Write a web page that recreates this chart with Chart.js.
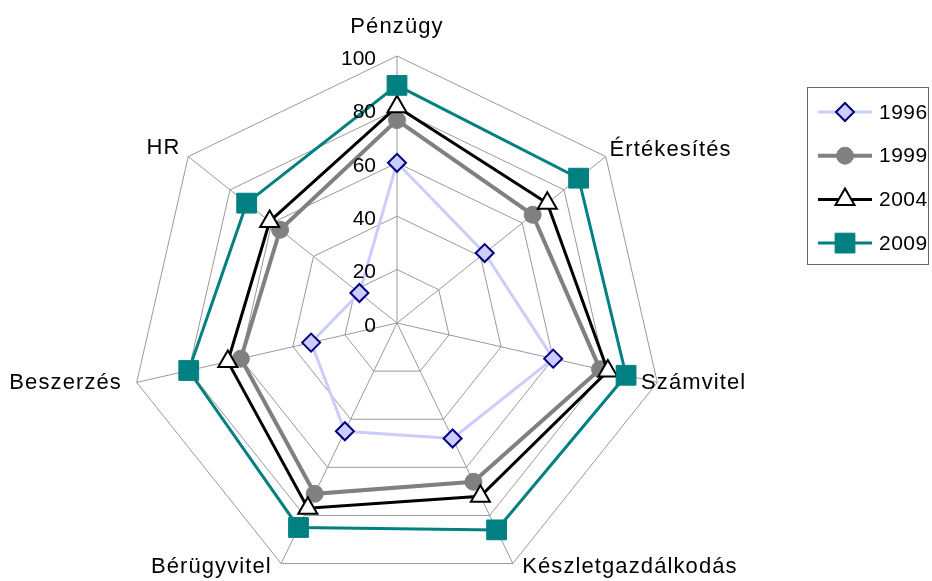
<!DOCTYPE html>
<html>
<head>
<meta charset="utf-8">
<script src="https://cdn.jsdelivr.net/npm/chart.js@4/dist/chart.umd.min.js"></script>
<style>
  html, body { margin: 0; padding: 0; background: #fff; }
  #wrap { width: 932px; height: 581px; }
</style>
</head>
<body>
<div id="wrap"><canvas id="chart" width="932" height="581"></canvas></div>
<script>
const categories = ['Pénzügy', 'Értékesítés', 'Számvitel', 'Készletgazdálkodás', 'Bérügyvitel', 'Beszerzés', 'HR'];
const years = ['1996', '1999', '2004', '2009'];
const values1996 = [60, 42, 60, 48, 45, 33, 18];
const values1999 = [76, 65, 78, 66, 71, 60, 56];
const values2004 = [81, 72, 81, 72, 77, 65, 61];
const values2009 = [89, 87, 88, 86, 85, 80, 72];
const tickValues = [0, 20, 40, 60, 80, 100];

const FONT = "'Liberation Sans', Arial, sans-serif";
// small hand tweaks so the category labels sit where Excel put them
const labelNudge = [[0, 0], [-4, 0], [-26, -2], [5, 0], [-5, 0], [-5, -2], [0, -2]];

const datasets = [
  {
    label: years[0], data: values1996, order: 4,
    borderColor: '#ccccff', borderWidth: 3,
    pointStyle: 'rectRot', pointRadius: 9,
    pointBackgroundColor: '#ccccff', pointBorderColor: '#000080', pointBorderWidth: 2
  },
  {
    label: years[1], data: values1999, order: 3,
    borderColor: '#808080', borderWidth: 4,
    pointStyle: 'circle', pointRadius: 8.5,
    pointBackgroundColor: '#808080', pointBorderColor: '#808080', pointBorderWidth: 1
  },
  {
    label: years[2], data: values2004, order: 2,
    borderColor: '#000000', borderWidth: 3,
    pointStyle: 'triangle', pointRadius: 11,
    pointBackgroundColor: '#ffffff', pointBorderColor: '#000000', pointBorderWidth: 2
  },
  {
    label: years[3], data: values2009, order: 1,
    borderColor: '#008080', borderWidth: 3,
    pointStyle: 'rect', pointRadius: 14,
    pointBackgroundColor: '#008080', pointBorderColor: '#008080', pointBorderWidth: 1
  }
];
datasets.forEach(d => { d.fill = false; d.clip = false; d.tension = 0; });

// Excel-like placement: fixed plot centre and radius, own tick labels, labels and legend
const excelLook = {
  id: 'excelLook',
  afterLayout(chart) {
    const r = chart.scales.r;
    r.xCenter = 397;
    r.yCenter = 323;
    r.drawingArea = 267;
  },
  afterDatasetsDraw(chart) {
    const r = chart.scales.r;
    const ctx = chart.ctx;
    ctx.save();
    ctx.font = '21px ' + FONT;
    ctx.fillStyle = '#000';
    ctx.textAlign = 'right';
    ctx.textBaseline = 'middle';
    tickValues.forEach(v => {
      const y = r.yCenter - r.getDistanceFromCenterForValue(v);
      ctx.fillText(String(v), r.xCenter - 21, y + 3);
    });
    ctx.restore();
  },
  afterDraw(chart) {
    const r = chart.scales.r;
    const ctx = chart.ctx;
    ctx.save();
    ctx.font = '22px ' + FONT;
    ctx.letterSpacing = '1.1px';
    ctx.fillStyle = '#000';
    categories.forEach((name, i) => {
      const p = r.getPointPosition(i, r.drawingArea + 10);
      const c = Math.cos(p.angle), s = Math.sin(p.angle);
      const nx = labelNudge[i][0], ny = labelNudge[i][1];
      if (Math.abs(c) < 0.1) {
        ctx.textAlign = 'center';
        ctx.textBaseline = 'alphabetic';
        ctx.fillText(name, p.x + nx, r.yCenter - r.drawingArea - 23 + ny);
        return;
      }
      ctx.textAlign = c > 0 ? 'left' : 'right';
      ctx.textBaseline = s > 0.5 ? 'alphabetic' : 'middle';
      ctx.fillText(name, p.x + nx, p.y + ny);
    });

    // legend
    const box = { x: 807.5, y: 87.5, w: 121, h: 177 };
    ctx.letterSpacing = '0.5px';
    ctx.strokeStyle = '#666';
    ctx.lineWidth = 1;
    ctx.strokeRect(box.x, box.y, box.w, box.h);
    ctx.font = '21px ' + FONT;
    ctx.textAlign = 'left';
    ctx.textBaseline = 'middle';
    chart.data.datasets.forEach((d, i) => {
      const y = box.y + 24.5 + i * 43.7;
      ctx.strokeStyle = d.borderColor;
      ctx.lineWidth = d.borderWidth;
      ctx.beginPath();
      ctx.moveTo(818, y);
      ctx.lineTo(872, y);
      ctx.stroke();
      ctx.fillStyle = d.pointBackgroundColor;
      ctx.strokeStyle = d.pointBorderColor;
      ctx.lineWidth = d.pointBorderWidth;
      Chart.helpers.drawPoint(ctx, {
        pointStyle: d.pointStyle, radius: d.pointRadius, rotation: 0, borderWidth: d.pointBorderWidth
      }, 845, y);
      ctx.fillStyle = '#000';
      ctx.fillText(d.label, 879, y + 1);
    });
    ctx.restore();
  }
};

new Chart(document.getElementById('chart'), {
  type: 'radar',
  data: { labels: categories, datasets: datasets },
  options: {
    responsive: false,
    animation: false,
    plugins: { legend: { display: false }, tooltip: { enabled: false } },
    scales: {
      r: {
        min: 0,
        max: 100,
        ticks: { stepSize: 20, display: false },
        pointLabels: { display: false },
        grid: { color: '#999', lineWidth: 1 },
        angleLines: { color: '#999', lineWidth: 1 }
      }
    }
  },
  plugins: [excelLook]
});
</script>
</body>
</html>
